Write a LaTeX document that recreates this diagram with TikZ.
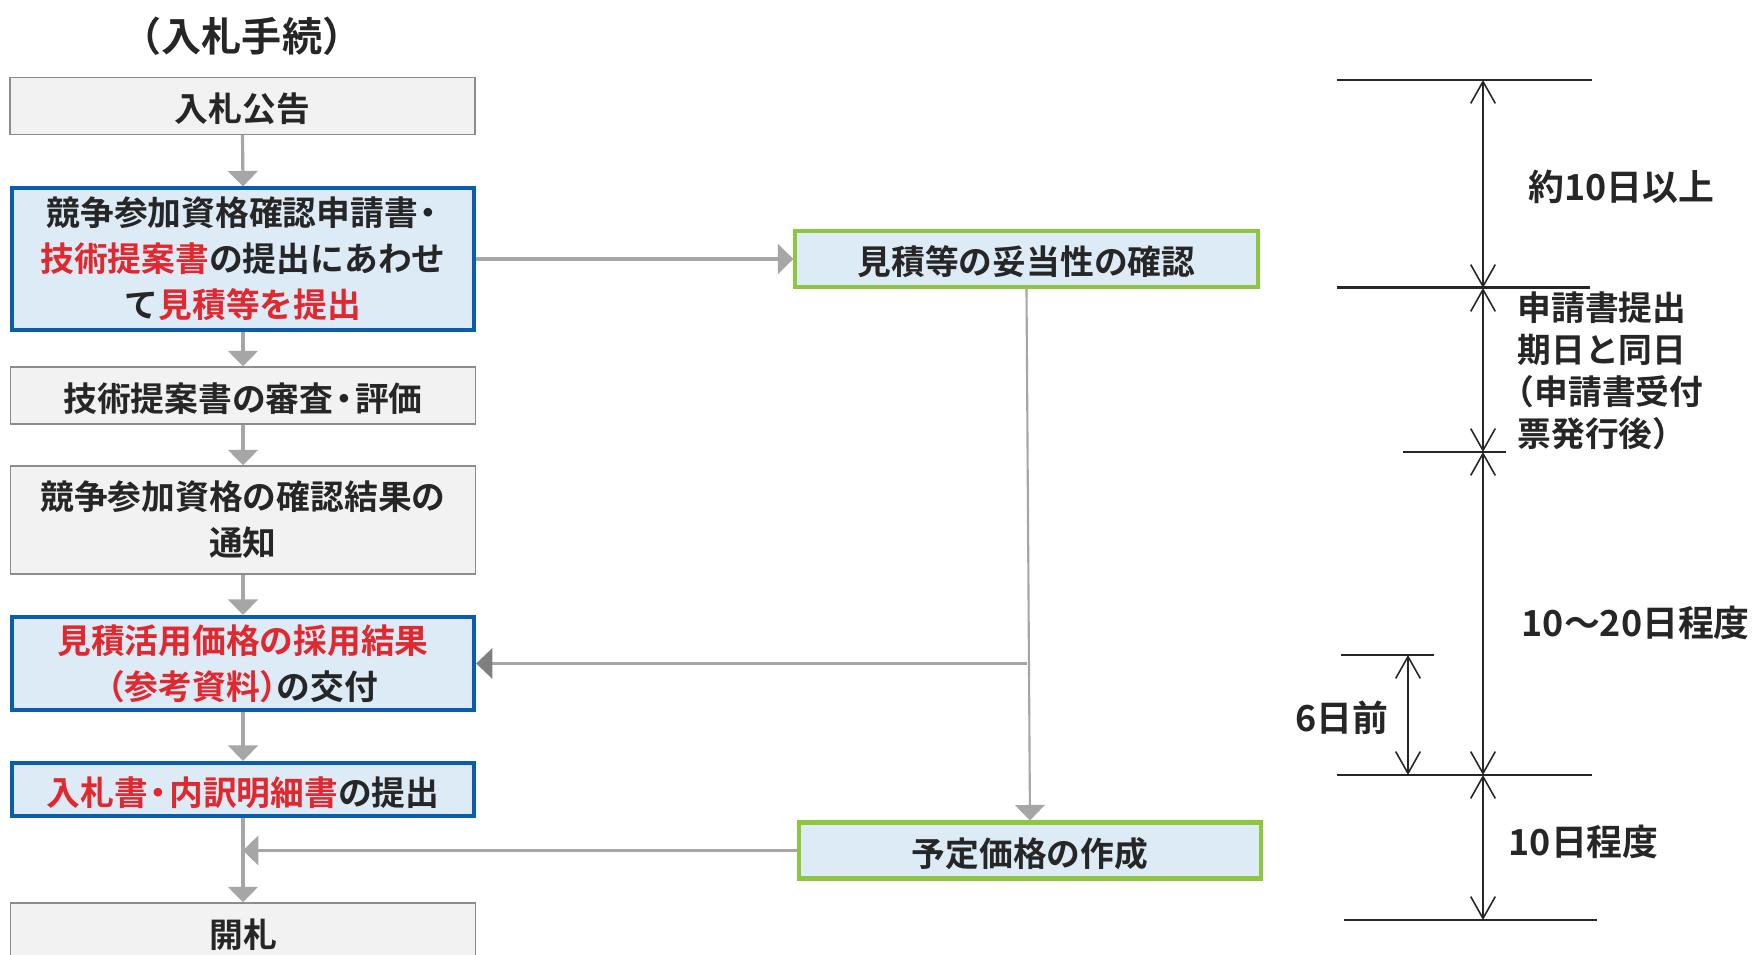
\documentclass[tikz,border=0pt]{standalone}
\usepackage{fontspec}
\setmainfont{Noto Sans CJK JP}[UprightFont=* Bold]
\usetikzlibrary{arrows.meta}
\definecolor{txt}{HTML}{262626}
\definecolor{redtx}{HTML}{E0282E}
\definecolor{bluebd}{HTML}{0A5CAC}
\definecolor{bluefill}{HTML}{DDEBF7}
\definecolor{grayfill}{HTML}{F2F2F2}
\definecolor{graybd}{HTML}{8C8C8C}
\definecolor{greenbd}{HTML}{8DC63F}
\definecolor{arrowgray}{HTML}{A6A6A6}
\definecolor{arrowdark}{HTML}{7F7F7F}
\newcommand\boxfont{\fontsize{9.6pt}{13.1pt}\selectfont}
\newcommand\titlefont{\fontsize{11.4pt}{13pt}\selectfont}
\newcommand\lblfont{\fontsize{9.6pt}{11.9pt}\selectfont}
\newcommand\numfont{\fontsize{10.2pt}{12pt}\selectfont}
\newcommand\dotj{\hspace*{-0.18em}・\hspace*{-0.18em}}
\newcommand\lparj{\hspace*{-0.5em}（}
\newcommand\rparj{）\hspace*{-0.5em}}
\tikzset{
  boxbase/.style={rectangle, inner sep=0pt, align=center, font=\boxfont, text=txt,
    execute at begin node={\rule{0pt}{9.8pt}}},
  graybox/.style={boxbase, draw=graybd, fill=grayfill, line width=0.4pt, minimum width=4.65cm},
  bluebox/.style={boxbase, draw=bluebd, fill=bluefill, line width=1.15pt, minimum width=4.62cm},
  greenbox/.style={boxbase, draw=greenbd, fill=bluefill, line width=1.15pt, minimum width=4.62cm},
  flow/.style={draw=arrowgray, line width=0.9pt, -{Triangle[length=4.4pt,width=8.4pt]}},
  flowthin/.style={draw=arrowgray, line width=0.6pt, -{Triangle[length=4.4pt,width=8.4pt]}},
  flowdark/.style={draw=arrowgray, line width=0.6pt, -{Triangle[length=4.6pt,width=8.6pt,color=arrowdark]}},
  dimline/.style={draw=txt, line width=0.6pt},
  dimarrow/.style={draw=txt, line width=0.45pt, {Straight Barb[length=6.2pt,width=7pt]}-{Straight Barb[length=6.2pt,width=7pt]}},
  lbl/.style={inner sep=0pt, text=txt, align=left, font=\lblfont},
  numlbl/.style={inner sep=0pt, text=txt, align=left, font=\numfont}
}
\begin{document}
\begin{tikzpicture}[x=0.01cm, y=-0.01cm]
\useasboundingbox (0,0) rectangle (1762,955);
\fill[white] (0,0) rectangle (1762,955);
\clip (0,0) rectangle (1762,955);

% left column
\node[inner sep=0pt, text=txt, font=\titlefont] (title) at (242,36) {（入札手続）};
\node[graybox, minimum height=0.565cm] (koukoku) at (242.5,106) {入札公告};
\node[bluebox, minimum height=1.41cm] (sanka) at (243,259)
  {競争参加資格確認申請書\dotj\\\textcolor{redtx}{技術提案書}の提出にあわせ\\て\textcolor{redtx}{見積等を提出}};
\node[graybox, minimum height=0.57cm] (shinsa) at (243,395.5) {技術提案書の審査\dotj 評価};
\node[graybox, minimum height=1.08cm] (tsuchi) at (243,520) {競争参加資格の確認結果の\\通知};
\node[bluebox, minimum height=0.93cm] (katsuyo) at (243,663.5)
  {\textcolor{redtx}{見積活用価格の採用結果}\\\textcolor{redtx}{\lparj 参考資料\rparj}の交付};
\node[bluebox, minimum height=0.53cm] (nyusatsu) at (243,789.5)
  {\textcolor{redtx}{入札書\dotj 内訳明細書}の提出};
\node[graybox, minimum height=0.57cm] (kaisatsu) at (243,931.5) {開札};

% middle column
\node[greenbox, minimum height=0.56cm] (mitsumori) at (1026.5,259) {見積等の妥当性の確認};
\node[greenbox, minimum height=0.56cm] (yotei) at (1030,850.5) {予定価格の作成};

% flow connectors
\draw[flow] (koukoku.south) -- (sanka.north);
\draw[flow] (sanka.south) -- (shinsa.north);
\draw[flow] (shinsa.south) -- (tsuchi.north);
\draw[flow] (tsuchi.south) -- (katsuyo.north);
\draw[flow] (katsuyo.south) -- (nyusatsu.north);
\draw[flow] (nyusatsu.south) -- (kaisatsu.north);
\draw[flow] (sanka.east) -- (mitsumori.west);
\draw[flowthin] (mitsumori.south) -- (yotei.north);
\draw[flowdark] (mitsumori.south |- katsuyo.east) -- (katsuyo.east);
\draw[flow] (yotei.west) -- (nyusatsu.south |- yotei.west);

% right: time scale
\coordinate (t1l) at (1337,80);  \coordinate (t1r) at (1592,80);
\coordinate (t2l) at (1337,288); \coordinate (t2r) at (1590,288);
\coordinate (t3l) at (1403,452); \coordinate (t3r) at (1506,452);
\coordinate (t6l) at (1341,655); \coordinate (t6r) at (1434,655);
\coordinate (t4l) at (1337,775); \coordinate (t4r) at (1592,775);
\coordinate (t5l) at (1344,920); \coordinate (t5r) at (1597,920);
\coordinate (ax) at (1483,0);
\coordinate (bx) at (1408,0);
\draw[dimline] (t1l) -- (t1r);
\draw[dimline, line width=0.85pt] (t2l) -- (t2r);
\draw[dimline] (t3l) -- (t3r);
\draw[dimline, line width=0.8pt] (t6l) -- (t6r);
\draw[dimline, line width=0.85pt] (t4l) -- (t4r);
\draw[dimline] (t5l) -- (t5r);
\draw[dimarrow] (ax |- t1l) -- (ax |- t2l);
\draw[dimarrow] (ax |- t2l) -- (ax |- t3l);
\draw[dimarrow] (ax |- t3l) -- (ax |- t4l);
\draw[dimarrow] (ax |- t4l) -- (ax |- t5l);
\draw[dimarrow] (bx |- t6l) -- (bx |- t4l);

\node[numlbl, anchor=west] (l1) at (1528,187) {約10日以上};
\node[lbl, anchor=west] (l2) at (1517,371) {申請書提出\\期日と同日\\\lparj 申請書受付\\票発行後）};
\node[numlbl, anchor=west] (l3) at (1521,623) {10～20日程度};
\node[numlbl, anchor=east] (l4) at (1389,718) {6日前};
\node[numlbl, anchor=west] (l5) at (1508,842) {10日程度};
\end{tikzpicture}
\end{document}
